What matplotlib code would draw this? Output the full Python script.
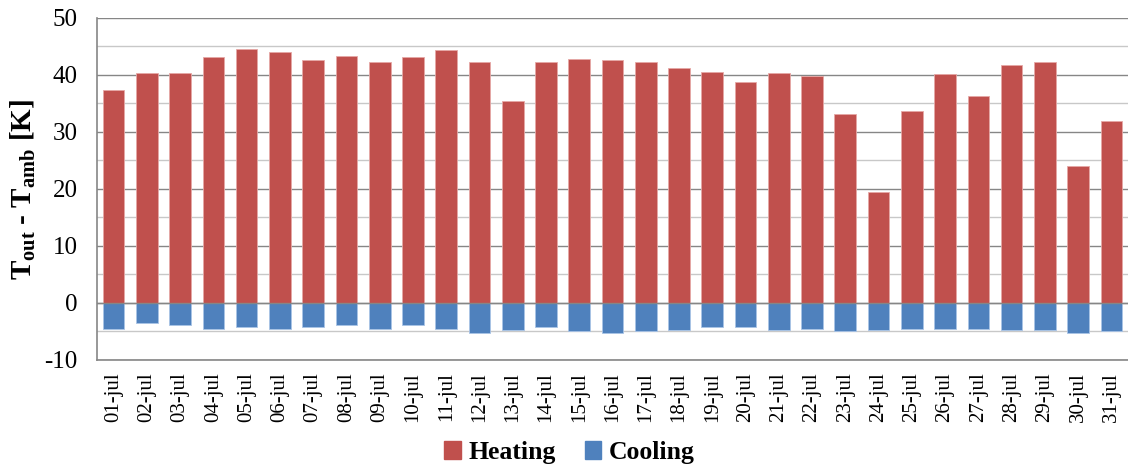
import numpy as np
import matplotlib
matplotlib.use('Agg')
import matplotlib.pyplot as plt
from matplotlib.patches import Patch

# Daily temperature difference, July
days = ['%02d-jul' % d for d in range(1, 32)]
heating = [37.3, 40.3, 40.3, 43.1, 44.6, 44.1, 42.6, 43.3, 42.3, 43.1,
           44.3, 42.3, 35.5, 42.3, 42.8, 42.6, 42.3, 41.3, 40.6, 38.8,
           40.3, 39.8, 33.2, 19.5, 33.7, 40.1, 36.3, 41.8, 42.3, 24.1, 32.0]
cooling = [-4.5, -3.6, -3.9, -4.5, -4.2, -4.5, -4.2, -3.9, -4.5, -3.9,
           -4.5, -5.2, -4.7, -4.2, -5.0, -5.2, -5.0, -4.7, -4.2, -4.2,
           -4.7, -4.5, -5.0, -4.7, -4.5, -4.5, -4.5, -4.7, -4.7, -5.2, -5.0]

red = '#c0504d'
blue = '#4f81bd'

plt.rcParams['font.family'] = ['Liberation Serif', 'DejaVu Serif']
plt.rcParams['axes.unicode_minus'] = False
plt.rcParams['mathtext.fontset'] = 'custom'
plt.rcParams['mathtext.rm'] = 'Liberation Serif'
plt.rcParams['mathtext.it'] = 'Liberation Serif:italic'
plt.rcParams['mathtext.bf'] = 'Liberation Serif:bold'

fig = plt.figure(figsize=(11.28, 4.73), dpi=100)
ax = fig.add_axes([0.086, 0.239, 0.914, 0.723])

x = np.arange(len(days))
ax.bar(x, heating, width=0.65, color=red, edgecolor='#e6a8a6', linewidth=0.6, zorder=3)
ax.bar(x, cooling, width=0.65, color=blue, edgecolor='#a9c4e6', linewidth=0.6, zorder=3)

ax.set_xlim(-0.5, len(days) - 0.5)
ax.set_ylim(-10, 50)
ax.set_yticks(np.arange(-10, 51, 10))
ax.set_yticks(np.arange(-5, 50, 10), minor=True)
ax.grid(axis='y', which='major', color='#868686', linewidth=1.0, zorder=0)
ax.grid(axis='y', which='minor', color='#c8c8c8', linewidth=1.0, zorder=0)
ax.axhline(0, color='#868686', linewidth=1.0, zorder=4)

ax.set_xticks(x)
ax.set_xticklabels(days, rotation=90, fontsize=15)
ax.tick_params(axis='x', length=0, pad=9)
ax.tick_params(axis='y', which='both', length=0, labelsize=18, pad=14)

for side in ['top', 'right']:
    ax.spines[side].set_visible(False)
for side in ['left', 'bottom']:
    ax.spines[side].set_color('#868686')
    ax.spines[side].set_linewidth(1.2)

ax.set_ylabel(r'$\mathbf{T_{out}}$ - $\mathbf{T_{amb}}$ [K]', fontsize=21,
              fontweight='bold')
ax.yaxis.set_label_coords(-0.057, 0.5)

handles = [Patch(color=red, label='Heating'), Patch(color=blue, label='Cooling')]
fig.legend(handles=handles, loc='lower center', bbox_to_anchor=(0.505, -0.03),
           ncol=2, frameon=False, prop={'weight': 'bold', 'size': 18.5},
           handlelength=0.65, handleheight=0.65, handletextpad=0.3, columnspacing=1.1)

fig.savefig('out.png', dpi=100)
